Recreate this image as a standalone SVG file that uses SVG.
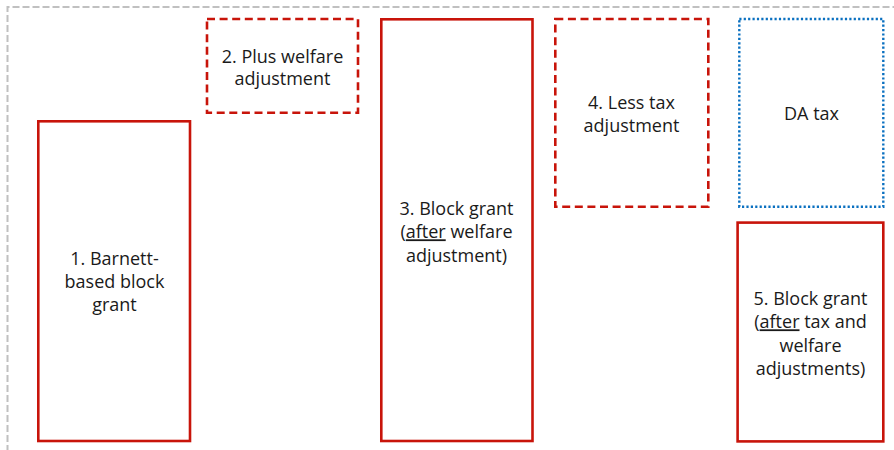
<svg xmlns="http://www.w3.org/2000/svg" width="894" height="450" viewBox="0 0 894 450">
<style>
.bg{fill:#ffffff}
.frame{fill:none;stroke:#c0c0c0;stroke-width:2;stroke-dasharray:7 3}
.solid{fill:#ffffff;stroke:#c8140a;stroke-width:2.6}
.dash{fill:#ffffff;stroke:#c8140a;stroke-width:2.6;stroke-dasharray:8 4.6}
.dot{fill:#ffffff;stroke:#0a70c0;stroke-width:2.4;stroke-dasharray:2.2 2.2}
text{font-family:"Open Sans","Noto Sans","Liberation Sans",sans-serif;font-size:18px;fill:#1a1a1a;text-anchor:middle}
.u{text-decoration:underline}
</style>
<rect class="bg" x="0" y="0" width="894" height="450"/>
<path class="frame" d="M7.5,452 V7 H896"/>
<g id="connectors"></g>
<g id="n1">
<rect class="solid" x="38.3" y="121.3" width="151.7" height="319.7"/>
<text x="114.5" y="265">1. Barnett-</text>
<text x="114.5" y="288.3">based block</text>
<text x="114.5" y="311">grant</text>
</g>
<g id="n2">
<rect class="dash" x="207" y="19" width="151" height="93.7"/>
<text x="282.5" y="62.7">2. Plus welfare</text>
<text x="282.5" y="84.5">adjustment</text>
</g>
<g id="n3">
<rect class="solid" x="381.3" y="19.3" width="151.2" height="421.7"/>
<text x="456.5" y="215">3. Block grant</text>
<text x="456.5" y="238.3">(<tspan class="u">after</tspan> welfare</text>
<text x="456.5" y="261.6">adjustment)</text>
</g>
<g id="n4">
<rect class="dash" x="555.3" y="19" width="153" height="187.7"/>
<text x="631.5" y="109.3">4. Less tax</text>
<text x="631.5" y="131.7">adjustment</text>
</g>
<g id="n_da">
<rect class="dot" x="739.3" y="19" width="144" height="187.7"/>
<text x="811.5" y="120">DA tax</text>
</g>
<g id="n5">
<rect class="solid" x="737.6" y="222.6" width="145.7" height="218.8"/>
<text x="810.5" y="305">5. Block grant</text>
<text x="810.5" y="328.3">(<tspan class="u">after</tspan> tax and</text>
<text x="810.5" y="351.6">welfare</text>
<text x="810.5" y="375">adjustments)</text>
</g>
</svg>
